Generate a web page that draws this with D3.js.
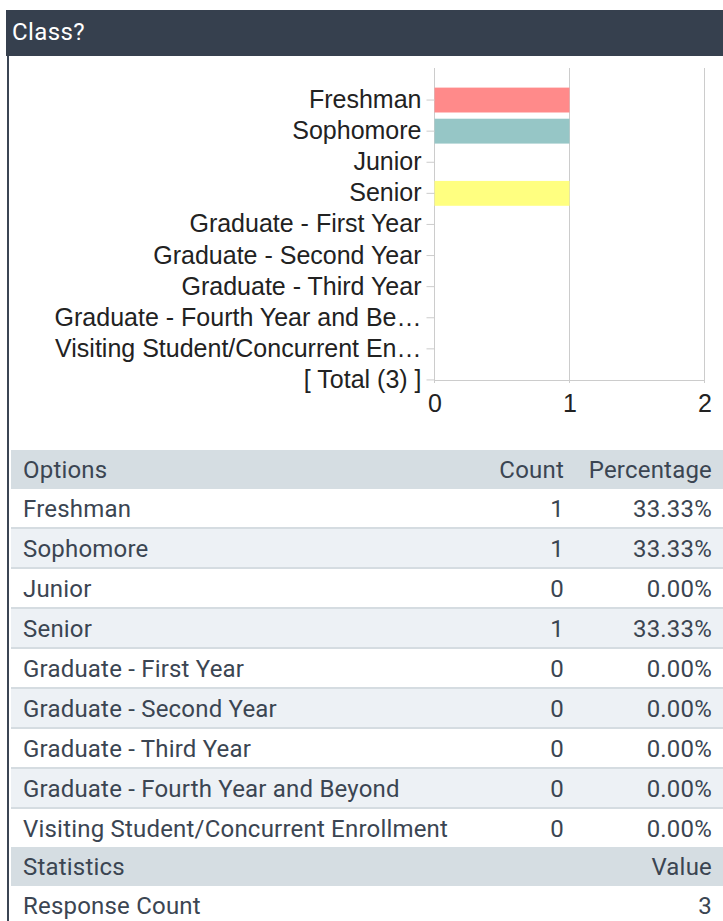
<!DOCTYPE html>
<html>
<head>
<meta charset="utf-8">
<script src="https://cdn.jsdelivr.net/npm/d3@7"></script>
<style>
  html, body { margin: 0; padding: 0; background: #ffffff; }
  svg { display: block; }
</style>
</head>
<body>
<script>
// Survey question and answer options
const questionTitle = "Class?";
const options = [
  "Freshman",
  "Sophomore",
  "Junior",
  "Senior",
  "Graduate - First Year",
  "Graduate - Second Year",
  "Graduate - Third Year",
  "Graduate - Fourth Year and Beyond",
  "Visiting Student/Concurrent Enrollment"
];
// Shortened axis labels shown beside the bars
const axisLabels = [
  "Freshman",
  "Sophomore",
  "Junior",
  "Senior",
  "Graduate - First Year",
  "Graduate - Second Year",
  "Graduate - Third Year",
  "Graduate - Fourth Year and Be\u2026",
  "Visiting Student/Concurrent En\u2026"
];
const counts = [1, 1, 0, 1, 0, 0, 0, 0, 0];
const barColors = ["#ff8a8a", "#96c6c6", "#dddddd", "#ffff80", "#dddddd", "#dddddd", "#dddddd", "#dddddd", "#dddddd"];
const xTicks = [0, 1, 2];
const statistics = [{ name: "Response Count", value: 3 }];

const total = d3.sum(counts);
const totalLabel = `[ Total (${total}) ]`;

const W = 723, H = 921;
const svg = d3.select("body").append("svg").attr("width", W).attr("height", H);

const textColor = "#3b4552";
const tableFont = "Roboto, 'Liberation Sans', Arial, sans-serif";
const chartFont = "'Liberation Sans', Arial, sans-serif";

// Panel header
svg.append("rect").attr("x", 6).attr("y", 10).attr("width", W - 6).attr("height", 46).attr("fill", "#36404e");
svg.append("text").attr("x", 12).attr("y", 40)
  .attr("font-family", tableFont).attr("font-size", 24).attr("letter-spacing", 0.4).attr("fill", "#ffffff")
  .text(questionTitle);
// Panel left border
svg.append("rect").attr("x", 7).attr("y", 56).attr("width", 2).attr("height", H - 56).attr("fill", "#3b4554");

// ---- Bar chart ----
const chartCats = axisLabels.concat([totalLabel]);
const x = d3.scaleLinear().domain([0, 2]).range([434.5, 704.5]);
const y = d3.scaleBand().domain(chartCats).range([84.5, 395.5]).padding(0);
const barH = y.bandwidth() * 0.8;

const chart = svg.append("g");

// vertical gridlines
chart.selectAll("line.grid").data(xTicks).enter().append("line")
  .attr("class", "grid")
  .attr("x1", d => x(d)).attr("x2", d => x(d))
  .attr("y1", 68).attr("y2", 383)
  .attr("stroke", "#cccccc").attr("stroke-width", 1);

// baseline
chart.append("line")
  .attr("x1", x(0)).attr("x2", x(2))
  .attr("y1", 380.5).attr("y2", 380.5)
  .attr("stroke", "#cccccc").attr("stroke-width", 1);

// bars
chart.selectAll("rect.bar").data(counts.map((c, i) => ({ c, i }))).enter().append("rect")
  .attr("class", "bar")
  .attr("x", x(0))
  .attr("y", d => y(axisLabels[d.i]) + (y.bandwidth() - barH) / 2)
  .attr("width", d => x(d.c) - x(0))
  .attr("height", barH)
  .attr("fill", d => barColors[d.i]);

// category axis
const yAxis = d3.axisLeft(y).tickSize(8).tickPadding(5);
const yg = chart.append("g").attr("transform", `translate(${x(0)},0)`).call(yAxis);
yg.select(".domain").remove();
yg.selectAll(".tick line").attr("stroke", "#cccccc");
yg.selectAll(".tick text")
  .attr("font-family", chartFont).attr("font-size", 25).attr("fill", "#222222");

// value axis labels
const xAxis = d3.axisBottom(x).tickValues(xTicks).tickFormat(d3.format("d")).tickSize(0).tickPadding(13);
const xg = chart.append("g").attr("transform", "translate(0,381)").call(xAxis);
xg.select(".domain").remove();
xg.selectAll(".tick text")
  .attr("font-family", chartFont).attr("font-size", 25).attr("fill", "#222222");

// ---- Results table ----
const tbl = svg.append("g").attr("font-family", tableFont).attr("font-size", 24).attr("letter-spacing", 0.2);
const tx0 = 11, tW = W - 11;
const colOpt = 23, colCount = 564, colPct = 712;

function headerRow(top, a, b, c) {
  tbl.append("rect").attr("x", tx0).attr("y", top).attr("width", tW).attr("height", 39).attr("fill", "#d5dde2");
  const base = top + 28;
  tbl.append("text").attr("x", colOpt).attr("y", base).attr("fill", textColor).text(a);
  if (b) tbl.append("text").attr("x", colCount).attr("y", base).attr("text-anchor", "end").attr("fill", textColor).text(b);
  tbl.append("text").attr("x", colPct).attr("y", base).attr("text-anchor", "end").attr("fill", textColor).text(c);
}

headerRow(450, "Options", "Count", "Percentage");

const rowTop = i => 489 + 40 * i;
options.forEach((opt, i) => {
  const top = rowTop(i);
  tbl.append("rect").attr("x", tx0).attr("y", top).attr("width", tW).attr("height", 38)
    .attr("fill", i % 2 === 0 ? "#ffffff" : "#edf1f5");
  if (i < options.length - 1) {
    tbl.append("rect").attr("x", tx0).attr("y", top + 38).attr("width", tW).attr("height", 2).attr("fill", "#d5dce1");
  }
  const base = top + 28;
  tbl.append("text").attr("x", colOpt).attr("y", base).attr("fill", textColor).text(opt);
  tbl.append("text").attr("x", colCount).attr("y", base).attr("text-anchor", "end").attr("fill", textColor).text(counts[i]);
  tbl.append("text").attr("x", colPct).attr("y", base).attr("text-anchor", "end").attr("fill", textColor)
    .text((counts[i] / total * 100).toFixed(2) + "%");
});

const statsTop = rowTop(options.length) - 2;
headerRow(statsTop, "Statistics", null, "Value");
statistics.forEach((s, i) => {
  const top = statsTop + 39 + 39 * i;
  tbl.append("rect").attr("x", tx0).attr("y", top).attr("width", tW).attr("height", 39).attr("fill", "#ffffff");
  tbl.append("text").attr("x", colOpt).attr("y", top + 28).attr("fill", textColor).text(s.name);
  tbl.append("text").attr("x", colPct).attr("y", top + 28).attr("text-anchor", "end").attr("fill", textColor).text(s.value);
});
</script>
</body>
</html>
